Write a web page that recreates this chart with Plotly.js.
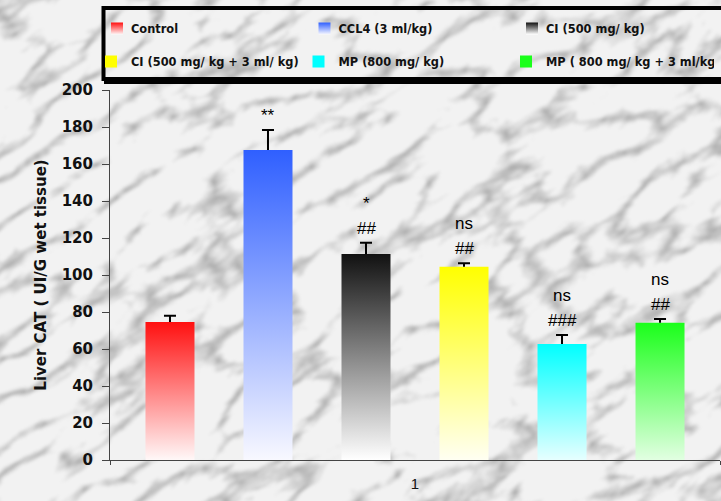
<!DOCTYPE html>
<html>
<head>
<meta charset="utf-8">
<script src="https://cdn.plot.ly/plotly-3.0.1.min.js"></script>
<style>
  html, body { margin: 0; padding: 0; background: #ececec; }
  #wrap { position: relative; width: 721px; height: 501px; overflow: hidden; }
  #bg { position: absolute; left: 0; top: 0; }
  #chart { position: absolute; left: 0; top: 0; width: 721px; height: 501px; }
</style>
</head>
<body>
<div id="wrap">
  <svg id="bg" width="721" height="501" xmlns="http://www.w3.org/2000/svg">
    <defs>
      <filter id="marble" x="0" y="0" width="100%" height="100%" color-interpolation-filters="sRGB">
        <feTurbulence type="turbulence" baseFrequency="0.011 0.026" numOctaves="4" seed="5"/>
        <feColorMatrix type="matrix" values="1.1 0 0 0 0.69  1.1 0 0 0 0.69  1.1 0 0 0 0.69  0 0 0 0 1"/>
        <feComponentTransfer>
          <feFuncR type="linear" slope="0.95" intercept="0"/>
          <feFuncG type="linear" slope="0.95" intercept="0"/>
          <feFuncB type="linear" slope="0.95" intercept="0"/>
        </feComponentTransfer>
        <feGaussianBlur stdDeviation="1.6"/>
      </filter>
    </defs>
    <g transform="rotate(-32 360 250)">
      <rect x="-350" y="-350" width="1450" height="1200" filter="url(#marble)"/>
    </g>
  </svg>
  <div id="chart"></div>
</div>
<script>
// ---- data ----
const groupLabel = '1';
const names = ['Control', 'CCL4 (3 ml/kg)', 'CI (500 mg/ kg)',
               'CI (500 mg/ kg + 3 ml/ kg)', 'MP (800 mg/ kg)', 'MP ( 800 mg/ kg + 3 ml/kg)'];
const values = [74.6, 167.6, 111.4, 104.5, 62.7, 74.2];
const errors = [3.4, 10.8, 6.1, 1.8, 4.9, 2.0];
const sigVsControl = ['', '**', '*', 'ns', 'ns', 'ns'];
const sigVsCCl4   = ['', '', '##', '##', '###', '##'];
const topColors    = ['#ff1010', '#2f5fff', '#111111', '#ffff00', '#00ffff', '#1aff1a'];
const bottomColors = ['#fff8f8', '#f8f8ff', '#ffffff', '#fffff2', '#e6ffff', '#e2ffe2'];

// ---- geometry helpers (pixel -> paper) ----
const L = 110, R = 720, T = 90, B = 460;
const px = v => (v - L) / (R - L);
const py = v => (B - v) / (B - T);

const bargap = 0.036, bargroupgap = 0.5;
const slot = (1 - bargap) / names.length;

const traces = names.map((n, i) => ({
  type: 'bar',
  name: n,
  x: [groupLabel],
  y: [values[i]],
  legend: i < 3 ? 'legend' : 'legend2',
  marker: { color: topColors[i], line: { width: 0 } },
  error_y: { type: 'data', symmetric: false, array: [errors[i]], arrayminus: [0],
             color: '#000', thickness: 2, width: 6 },
  hoverinfo: 'none'
}));

const annotations = [];
names.forEach((n, i) => {
  const xpos = (i - (names.length - 1) / 2) * slot;
  const labels = [sigVsCCl4[i], sigVsControl[i]].filter(s => s !== '');
  labels.forEach((s, k) => {
    annotations.push({
      x: xpos, y: values[i] + errors[i], xref: 'x', yref: 'y',
      text: s, showarrow: false, yanchor: 'bottom', yshift: 3 + k * 25,
      font: { family: 'Liberation Sans, Arial', size: 17, color: '#000' }
    });
  });
});

const legendFont = { family: 'DejaVu Sans', size: 11.4, color: '#111', weight: 'bold' };
const legendBase = { orientation: 'h', xref: 'paper', yref: 'paper', x: px(91),
                     xanchor: 'left', yanchor: 'top', entrywidth: 162.5,
                     bgcolor: 'rgba(0,0,0,0)', borderwidth: 0, font: legendFont };

const layout = {
  width: 721, height: 501,
  margin: { l: L, r: 721 - R, t: T, b: 501 - B, pad: 0, autoexpand: false },
  paper_bgcolor: 'rgba(0,0,0,0)',
  plot_bgcolor: 'rgba(0,0,0,0)',
  barmode: 'group', bargap: bargap, bargroupgap: bargroupgap,
  showlegend: true,
  legend: Object.assign({}, legendBase, { y: py(14) }),
  legend2: Object.assign({}, legendBase, { y: py(47) }),
  xaxis: {
    type: 'category', range: [-0.5, 0.5], showline: true, linecolor: '#444', linewidth: 1,
    ticks: 'outside', tickson: 'boundaries', ticklen: 4, tickcolor: '#444',
    tickfont: { family: 'Liberation Sans, Arial', size: 15, color: '#111' },
    ticklabelstandoff: 10, showgrid: false, zeroline: false, fixedrange: true
  },
  yaxis: {
    range: [0, 200], dtick: 20, showline: true, linecolor: '#444', linewidth: 1,
    ticks: 'outside', ticklen: 7, tickcolor: '#444',
    tickfont: { family: 'DejaVu Sans', size: 15, color: '#111', weight: 'bold' },
    ticklabelstandoff: 6, showgrid: false, zeroline: false, fixedrange: true,
    title: { text: 'Liver CAT ( UI/G wet tissue)', standoff: 11,
             font: { family: 'DejaVu Sans', size: 15, color: '#111', weight: 'bold' } }
  },
  annotations: annotations,
  shapes: [
    { type: 'rect', xref: 'paper', yref: 'paper', x0: px(103.5), x1: px(735), y0: py(79), y1: py(8),
      line: { color: '#000', width: 4 }, fillcolor: 'rgba(0,0,0,0)' },
    { type: 'rect', xref: 'paper', yref: 'paper', x0: px(104), x1: px(735), y0: py(84), y1: py(77),
      line: { width: 0 }, fillcolor: '#000' }
  ]
};

Plotly.newPlot('chart', traces, layout, { displayModeBar: false, staticPlot: true }).then(gd => {
  const svg = gd.querySelector('.main-svg');
  let defs = svg.querySelector('defs');
  const NS = 'http://www.w3.org/2000/svg';
  names.forEach((n, i) => {
    const g = document.createElementNS(NS, 'linearGradient');
    g.setAttribute('id', 'barGrad' + i);
    g.setAttribute('x1', '0'); g.setAttribute('y1', '0');
    g.setAttribute('x2', '0'); g.setAttribute('y2', '1');
    const s1 = document.createElementNS(NS, 'stop');
    s1.setAttribute('offset', '0'); s1.setAttribute('stop-color', topColors[i]);
    const s2 = document.createElementNS(NS, 'stop');
    s2.setAttribute('offset', '1'); s2.setAttribute('stop-color', bottomColors[i]);
    g.appendChild(s1); g.appendChild(s2);
    defs.appendChild(g);
  });
  gd.querySelectorAll('.barlayer .trace').forEach((tr, i) => {
    tr.querySelectorAll('.point path').forEach(p => { p.style.fill = 'url(#barGrad' + i + ')'; });
  });
  gd.querySelectorAll('.errorbar path').forEach(p => {
    const d = p.getAttribute('d');
    const idx = d.lastIndexOf('m-');
    if (idx > d.indexOf('V')) p.setAttribute('d', d.slice(0, idx));
  });
  gd.querySelectorAll('.legend .traces').forEach(t => {
    const txt = t.querySelector('.legendtext');
    const i = names.indexOf(txt ? txt.textContent : '');
    if (i < 0) return;
    const lp = t.querySelector('.legendpoints');
    if (lp) lp.setAttribute('transform', 'translate(6,0)');
    t.querySelectorAll('.legendpoints path').forEach(p => { p.style.fill = 'url(#barGrad' + i + ')'; });
  });
});
</script>
</body>
</html>
